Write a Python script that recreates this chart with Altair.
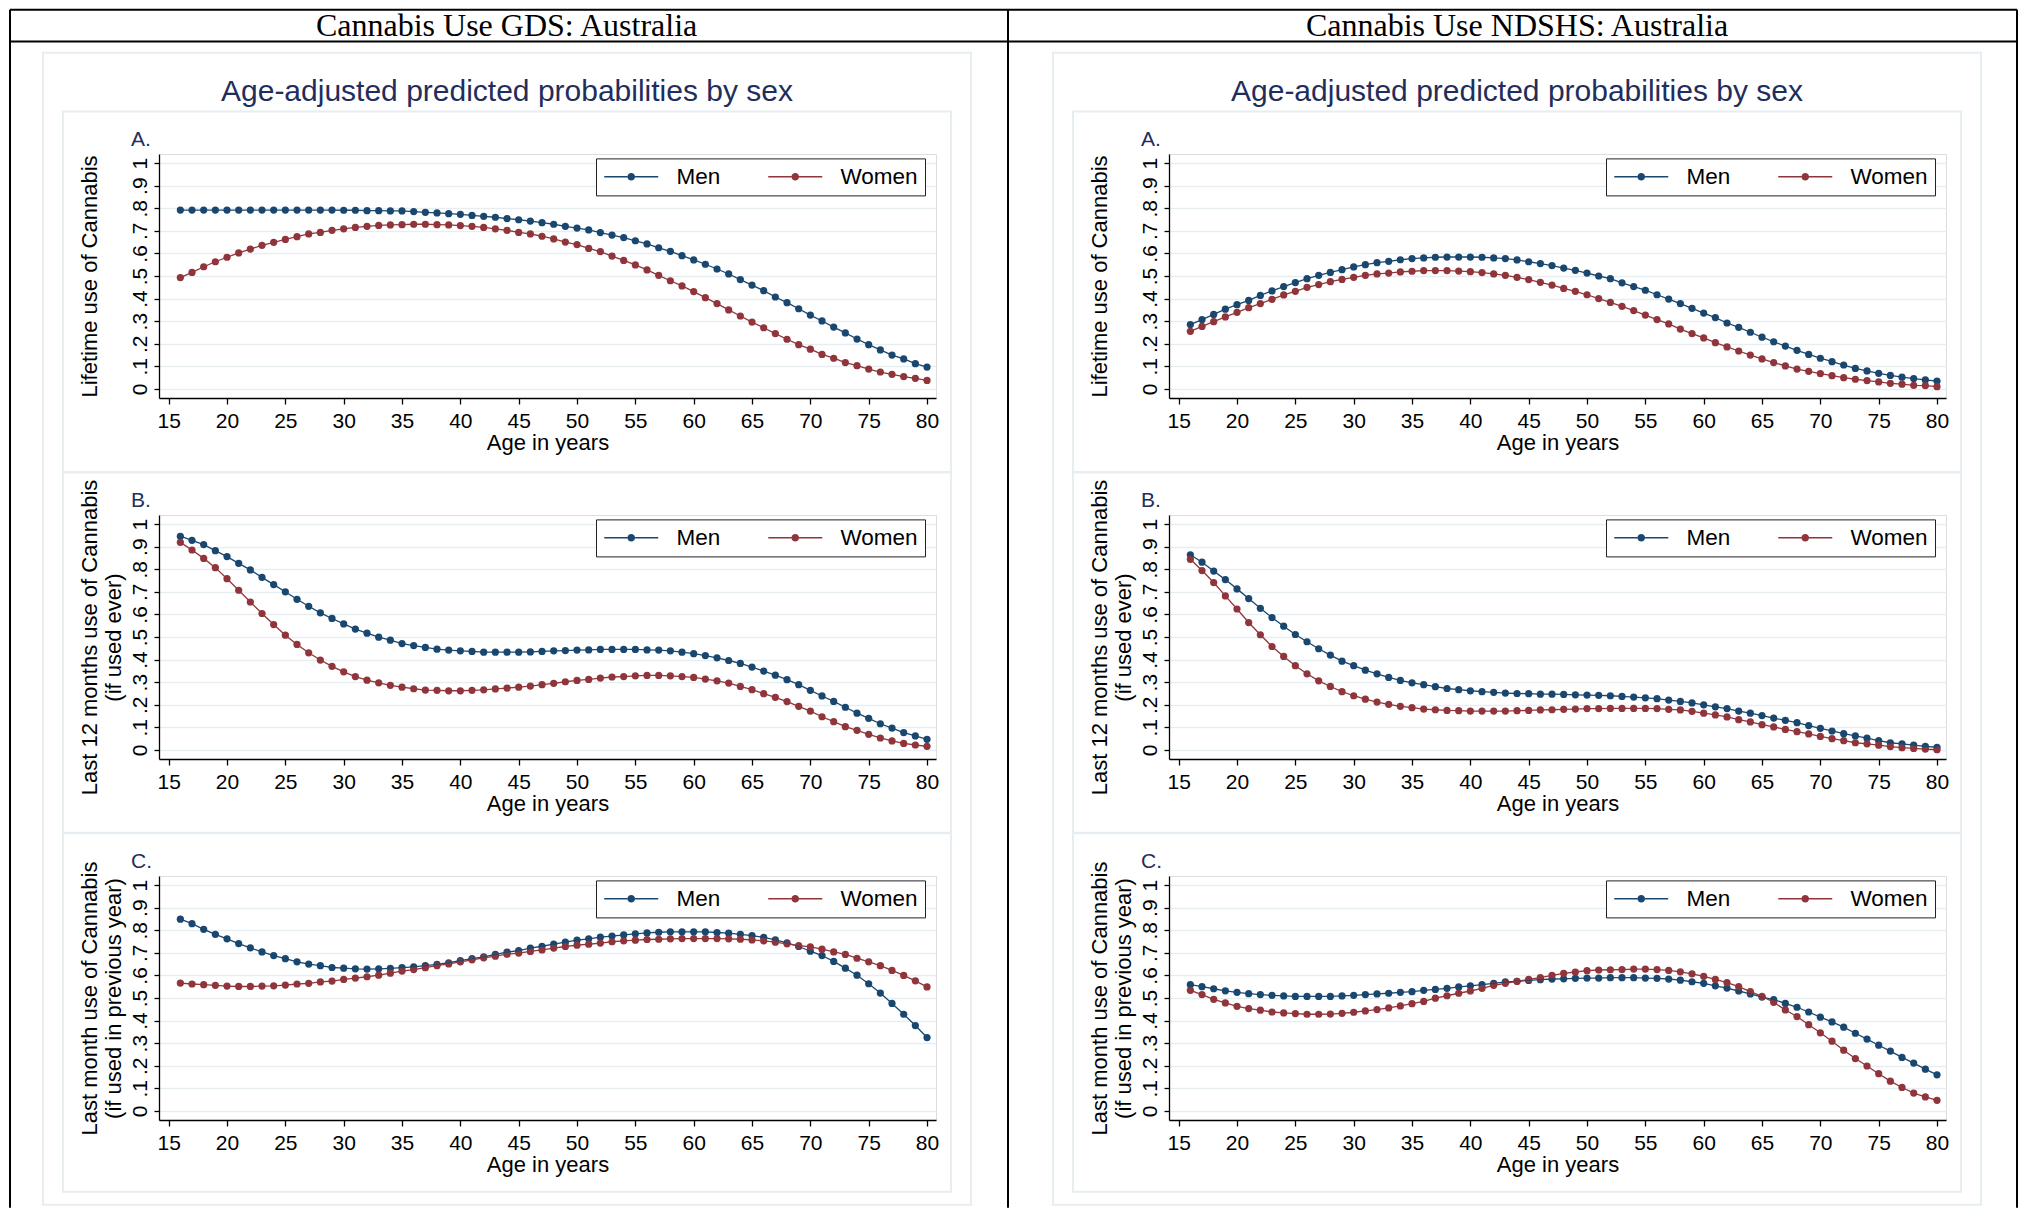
import math
import altair as alt
import pandas as pd

# ---------------- data ----------------
ages = list(range(16, 81))
x_ticks = [15, 20, 25, 30, 35, 40, 45, 50, 55, 60, 65, 70, 75, 80]
y_ticks = [0, 0.1, 0.2, 0.3, 0.4, 0.5, 0.6, 0.7, 0.8, 0.9, 1.0]
y_tick_labels = ["0", ".1", ".2", ".3", ".4", ".5", ".6", ".7", ".8", ".9", "1"]
sexes = ["Men", "Women"]

survey_headers = ["Cannabis Use GDS: Australia", "Cannabis Use NDSHS: Australia"]
column_title = "Age-adjusted predicted probabilities by sex"
panel_letters = ["A.", "B.", "C."]
y_titles = [
    "Lifetime use of Cannabis",
    ["Last 12 months use of Cannabis", "(if used ever)"],
    ["Last month use of Cannabis", "(if used in previous year)"],
]
x_title = "Age in years"

gds_life_men = [0.792, 0.792, 0.792, 0.792, 0.792, 0.792, 0.792, 0.792, 0.792, 0.792,
                0.792, 0.792, 0.792, 0.792, 0.791, 0.791, 0.789, 0.789, 0.788, 0.788,
                0.785, 0.782, 0.779, 0.776, 0.773, 0.768, 0.764, 0.760, 0.754, 0.749,
                0.743, 0.736, 0.729, 0.720, 0.712, 0.704, 0.692, 0.681, 0.670, 0.656,
                0.642, 0.625, 0.609, 0.590, 0.571, 0.552, 0.531, 0.509, 0.484, 0.460,
                0.435, 0.407, 0.382, 0.355, 0.327, 0.301, 0.274, 0.248, 0.221, 0.196,
                0.173, 0.150, 0.133, 0.112, 0.097]
gds_life_women = [0.493, 0.516, 0.541, 0.563, 0.583, 0.602, 0.619, 0.636, 0.649, 0.662,
                  0.674, 0.686, 0.693, 0.702, 0.709, 0.715, 0.720, 0.724, 0.726, 0.727,
                  0.729, 0.729, 0.727, 0.726, 0.723, 0.720, 0.715, 0.709, 0.702, 0.693,
                  0.686, 0.676, 0.664, 0.650, 0.639, 0.622, 0.608, 0.588, 0.569, 0.549,
                  0.527, 0.503, 0.479, 0.456, 0.431, 0.404, 0.378, 0.350, 0.323, 0.296,
                  0.271, 0.245, 0.220, 0.196, 0.176, 0.153, 0.136, 0.117, 0.103, 0.088,
                  0.075, 0.065, 0.055, 0.047, 0.038]
gds_12m_men = [0.946, 0.928, 0.909, 0.882, 0.856, 0.826, 0.797, 0.764, 0.732, 0.700,
               0.667, 0.636, 0.607, 0.582, 0.558, 0.535, 0.517, 0.499, 0.486, 0.471,
               0.462, 0.454, 0.446, 0.442, 0.439, 0.436, 0.433, 0.433, 0.433, 0.433,
               0.434, 0.436, 0.439, 0.440, 0.442, 0.443, 0.445, 0.445, 0.445, 0.445,
               0.443, 0.442, 0.439, 0.433, 0.426, 0.418, 0.408, 0.396, 0.383, 0.367,
               0.349, 0.331, 0.311, 0.289, 0.264, 0.239, 0.215, 0.189, 0.163, 0.140,
               0.116, 0.097, 0.077, 0.062, 0.047]
gds_12m_women = [0.919, 0.885, 0.848, 0.807, 0.758, 0.707, 0.655, 0.604, 0.555, 0.508,
                 0.467, 0.430, 0.398, 0.370, 0.346, 0.325, 0.309, 0.297, 0.286, 0.278,
                 0.271, 0.265, 0.264, 0.262, 0.262, 0.264, 0.266, 0.270, 0.274, 0.278,
                 0.283, 0.289, 0.295, 0.302, 0.308, 0.312, 0.318, 0.323, 0.325, 0.328,
                 0.330, 0.330, 0.328, 0.325, 0.321, 0.314, 0.306, 0.296, 0.281, 0.267,
                 0.249, 0.233, 0.214, 0.193, 0.172, 0.147, 0.125, 0.103, 0.087, 0.069,
                 0.053, 0.040, 0.029, 0.022, 0.016]
gds_month_men = [0.849, 0.829, 0.804, 0.782, 0.762, 0.741, 0.722, 0.704, 0.688, 0.674,
                 0.660, 0.650, 0.643, 0.635, 0.632, 0.629, 0.628, 0.629, 0.631, 0.634,
                 0.638, 0.643, 0.649, 0.656, 0.665, 0.674, 0.682, 0.693, 0.703, 0.710,
                 0.721, 0.729, 0.738, 0.747, 0.756, 0.762, 0.769, 0.774, 0.779, 0.784,
                 0.788, 0.791, 0.793, 0.793, 0.793, 0.793, 0.790, 0.787, 0.782, 0.776,
                 0.768, 0.757, 0.744, 0.728, 0.707, 0.688, 0.662, 0.632, 0.601, 0.563,
                 0.522, 0.476, 0.428, 0.378, 0.325]
gds_month_women = [0.566, 0.562, 0.559, 0.556, 0.553, 0.551, 0.551, 0.553, 0.554, 0.557,
                   0.562, 0.565, 0.571, 0.575, 0.582, 0.588, 0.594, 0.601, 0.610, 0.619,
                   0.626, 0.634, 0.643, 0.651, 0.660, 0.669, 0.678, 0.685, 0.694, 0.699,
                   0.706, 0.713, 0.721, 0.728, 0.734, 0.738, 0.743, 0.749, 0.753, 0.756,
                   0.759, 0.760, 0.762, 0.763, 0.763, 0.763, 0.763, 0.762, 0.760, 0.757,
                   0.753, 0.747, 0.740, 0.732, 0.726, 0.716, 0.704, 0.693, 0.676, 0.660,
                   0.643, 0.622, 0.600, 0.576, 0.549]
ndshs_life_men = [0.285, 0.307, 0.330, 0.353, 0.373, 0.392, 0.414, 0.434, 0.453, 0.471,
                  0.488, 0.503, 0.516, 0.528, 0.540, 0.550, 0.559, 0.565, 0.572, 0.577,
                  0.580, 0.583, 0.584, 0.584, 0.584, 0.583, 0.580, 0.577, 0.571, 0.563,
                  0.555, 0.546, 0.535, 0.525, 0.513, 0.500, 0.488, 0.470, 0.453, 0.437,
                  0.417, 0.398, 0.378, 0.357, 0.336, 0.316, 0.292, 0.273, 0.251, 0.229,
                  0.209, 0.190, 0.171, 0.153, 0.136, 0.121, 0.106, 0.091, 0.080, 0.069,
                  0.060, 0.052, 0.046, 0.040, 0.035]
ndshs_life_women = [0.255, 0.277, 0.298, 0.319, 0.339, 0.360, 0.378, 0.397, 0.416, 0.432,
                    0.450, 0.462, 0.475, 0.485, 0.494, 0.503, 0.509, 0.513, 0.518, 0.521,
                    0.524, 0.524, 0.524, 0.522, 0.519, 0.515, 0.509, 0.503, 0.494, 0.484,
                    0.472, 0.460, 0.445, 0.432, 0.417, 0.400, 0.383, 0.366, 0.347, 0.327,
                    0.307, 0.288, 0.265, 0.245, 0.226, 0.205, 0.186, 0.168, 0.150, 0.133,
                    0.117, 0.102, 0.088, 0.078, 0.068, 0.059, 0.050, 0.043, 0.037, 0.031,
                    0.025, 0.021, 0.016, 0.015, 0.010]
ndshs_12m_men = [0.864, 0.831, 0.792, 0.754, 0.713, 0.670, 0.627, 0.586, 0.548, 0.511,
                 0.479, 0.448, 0.420, 0.393, 0.373, 0.353, 0.337, 0.321, 0.308, 0.297,
                 0.289, 0.280, 0.272, 0.267, 0.262, 0.258, 0.255, 0.252, 0.250, 0.249,
                 0.247, 0.247, 0.246, 0.244, 0.243, 0.242, 0.240, 0.237, 0.234, 0.231,
                 0.227, 0.221, 0.215, 0.208, 0.200, 0.191, 0.183, 0.172, 0.163, 0.152,
                 0.141, 0.131, 0.121, 0.108, 0.096, 0.084, 0.072, 0.062, 0.052, 0.041,
                 0.032, 0.027, 0.021, 0.016, 0.012]
ndshs_12m_women = [0.844, 0.794, 0.741, 0.682, 0.624, 0.564, 0.510, 0.458, 0.414, 0.373,
                   0.337, 0.306, 0.281, 0.258, 0.240, 0.225, 0.212, 0.202, 0.193, 0.187,
                   0.181, 0.178, 0.175, 0.174, 0.172, 0.172, 0.172, 0.172, 0.174, 0.175,
                   0.177, 0.178, 0.180, 0.181, 0.183, 0.183, 0.184, 0.184, 0.184, 0.184,
                   0.183, 0.180, 0.177, 0.171, 0.163, 0.155, 0.146, 0.134, 0.124, 0.112,
                   0.102, 0.091, 0.081, 0.071, 0.060, 0.050, 0.041, 0.032, 0.027, 0.021,
                   0.015, 0.010, 0.007, 0.004, 0.001]
ndshs_month_men = [0.559, 0.550, 0.541, 0.532, 0.525, 0.519, 0.515, 0.512, 0.509, 0.507,
                   0.507, 0.507, 0.507, 0.509, 0.512, 0.515, 0.518, 0.521, 0.525, 0.528,
                   0.534, 0.538, 0.543, 0.549, 0.554, 0.559, 0.565, 0.571, 0.574, 0.578,
                   0.581, 0.584, 0.585, 0.587, 0.588, 0.588, 0.590, 0.590, 0.590, 0.588,
                   0.587, 0.584, 0.579, 0.572, 0.565, 0.554, 0.544, 0.531, 0.518, 0.504,
                   0.493, 0.476, 0.459, 0.438, 0.415, 0.394, 0.371, 0.344, 0.318, 0.291,
                   0.265, 0.237, 0.212, 0.185, 0.160]
ndshs_month_women = [0.534, 0.515, 0.494, 0.478, 0.463, 0.453, 0.446, 0.438, 0.434, 0.431,
                     0.428, 0.428, 0.429, 0.432, 0.437, 0.443, 0.449, 0.456, 0.465, 0.475,
                     0.485, 0.499, 0.510, 0.521, 0.531, 0.543, 0.556, 0.565, 0.574, 0.582,
                     0.590, 0.600, 0.609, 0.615, 0.621, 0.624, 0.625, 0.626, 0.628, 0.628,
                     0.626, 0.622, 0.616, 0.607, 0.596, 0.582, 0.568, 0.550, 0.528, 0.507,
                     0.481, 0.447, 0.418, 0.382, 0.346, 0.309, 0.269, 0.232, 0.199, 0.165,
                     0.132, 0.104, 0.079, 0.062, 0.047]

# ---------------- style ----------------
NAVY = "#1A476F"
MAROON = "#90353B"
TITLE_NAVY = "#1F2E5C"
GRID = "#E6EEF1"
BOX = "#E6EEF1"
SANS = "Liberation Sans"
SERIF = "Liberation Serif"

W, H = 777, 244
COL_X = [158, 1168]            # page x of each column's plot area
ROW_Y = [153.3, 514.3, 875.3]  # page y of each row's plot area

one = pd.DataFrame({"k": [0]})
y_expr = "[" + ",".join("'%s'" % s for s in y_tick_labels) + "][round(datum.value*10)]"

# legend key glyph: symbol unit = 10 px (symbolSize 400); key is 54 px wide
LEG_UNIT = 10.0


def legend_glyph():
    half = 27 / LEG_UNIT
    r = 3.8 / LEG_UNIT
    h = 0.68 / LEG_UNIT
    parts = ["M%.3f,%.3fL%.3f,%.3fL%.3f,%.3fL%.3f,%.3fZ"
             % (-half, -h, -r, -h, -r, h, -half, h),
             "M%.3f,%.3fL%.3f,%.3fL%.3f,%.3fL%.3f,%.3fZ"
             % (r, -h, half, -h, half, h, r, h)]
    pts = []
    for i in range(16):
        a = 2 * math.pi * i / 16
        pts.append("%.4f,%.4f" % (r * math.cos(a), r * math.sin(a)))
    parts.append("M" + "L".join(pts) + "Z")
    return "".join(parts)


LEG_PATH = legend_glyph()


def hrule(x1, x2, y, ox, oy, color, width):
    return alt.Chart(one).mark_rule(color=color, strokeWidth=width).encode(
        x=alt.value(x1 - ox), x2=alt.value(x2 - ox), y=alt.value(y - oy))


def vrule(x, y1, y2, ox, oy, color, width):
    return alt.Chart(one).mark_rule(color=color, strokeWidth=width).encode(
        x=alt.value(x - ox), y=alt.value(y1 - oy), y2=alt.value(y2 - oy))


def box(x1, y1, x2, y2, ox, oy):
    return alt.Chart(one).mark_rect(fill="white", fillOpacity=0, stroke=BOX,
                                    strokeWidth=2).encode(
        x=alt.value(x1 - ox), x2=alt.value(x2 - ox),
        y=alt.value(y1 - oy), y2=alt.value(y2 - oy))


def text_at(txt, x, y, ox, oy, font, size, color):
    return alt.Chart(one).mark_text(text=txt, font=font, fontSize=size, color=color,
                                    align="center", baseline="alphabetic").encode(
        x=alt.value(x - ox), y=alt.value(y - oy))


def panel(men, women, ytitle, letter, extra):
    n = len(ages)
    df = pd.DataFrame({"age": ages + ages, "prob": men + women,
                       "sex": [sexes[0]] * n + [sexes[1]] * n})
    cscale = alt.Scale(domain=sexes, range=[NAVY, MAROON])
    x = alt.X("age:Q", scale=alt.Scale(domain=[14.17, 80.77], nice=False, zero=False),
              axis=alt.Axis(values=x_ticks, format="d", labelAngle=0, labelFont=SANS,
                            labelFontSize=21, labelColor="black", labelPadding=6,
                            labelOverlap=False, labelFlush=False,
                            tickSize=6, tickColor="black", tickWidth=1.3,
                            domainColor="black", domainWidth=1.3, grid=False,
                            title=x_title, titleFont=SANS, titleFontSize=22,
                            titleFontWeight="normal", titleColor="black",
                            titleX=W / 2, titleY=34, titleAlign="center",
                            titleBaseline="top"))
    y = alt.Y("prob:Q", scale=alt.Scale(domain=[-0.04, 1.04], nice=False, zero=False),
              axis=alt.Axis(values=y_ticks, labelExpr=y_expr, labelAngle=270,
                            labelAlign="center", labelBaseline="alphabetic",
                            labelPadding=8, labelFont=SANS, labelFontSize=21,
                            labelColor="black", labelOverlap=False, labelFlush=False,
                            tickSize=5, tickColor="black", tickWidth=1.3,
                            domainColor="black", domainWidth=1.3,
                            grid=True, gridColor=GRID, gridWidth=1.6,
                            title=ytitle, titleFont=SANS, titleFontSize=22,
                            titleFontWeight="normal", titleColor="black",
                            titleAngle=270, titleAlign="center", titleBaseline="top",
                            titleX=-79.6, titleY=H / 2, titleLineHeight=24))
    legend = alt.Legend(title=None, orient="none", legendX=437, legendY=4.4,
                        direction="horizontal", symbolType=LEG_PATH,
                        symbolSize=LEG_UNIT * LEG_UNIT * 4, symbolOffset=17,
                        symbolStrokeWidth=0, symbolOpacity=1, labelFont=SANS,
                        labelFontSize=22.5, labelColor="black", labelOffset=34,
                        columnPadding=46, padding=7, strokeColor="#222222",
                        fillColor="white", cornerRadius=0)
    color = alt.Color("sex:N", scale=cscale, legend=legend)
    base = alt.Chart(df)
    pts = base.mark_point(filled=True, size=52, opacity=1).encode(x=x, y=y, color=color)
    line = base.mark_line(strokeWidth=1.3).encode(x=x, y=y, color=color)
    lab = alt.Chart(one).mark_text(text=letter, font=SANS, fontSize=21, color=TITLE_NAVY,
                                   align="left", baseline="alphabetic").encode(
        x=alt.value(-28), y=alt.value(-8.5))
    return alt.layer(*(extra + [pts, line, lab])).properties(width=W, height=H)


# ---------------- decorations (page coordinates) ----------------
ox, oy = COL_X[0], ROW_Y[0]
deco_left = [
    hrule(9, 2016, 9, ox, oy, "black", 2),
    hrule(9, 2016, 40.7, ox, oy, "black", 2),
    vrule(9, 9, 1207, ox, oy, "black", 2),
    vrule(1007, 9, 1207, ox, oy, "black", 2),
    vrule(2016, 9, 1207, ox, oy, "black", 2),
]
for c in range(2):
    dx = 1010 * c
    deco_left += [
        box(42 + dx, 52, 970 + dx, 1204, ox, oy),
        box(62 + dx, 110.7, 950 + dx, 471.2, ox, oy),
        box(62 + dx, 471.7, 950 + dx, 832, ox, oy),
        box(62 + dx, 832.5, 950 + dx, 1191, ox, oy),
    ]
deco_left += [
    text_at(survey_headers[0], 505.6, 35, ox, oy, SERIF, 32, "black"),
    text_at(column_title, 506, 100, ox, oy, SANS, 30, TITLE_NAVY),
]
ox2 = COL_X[1]
deco_right = [
    text_at(survey_headers[1], 1516, 35, ox2, oy, SERIF, 32, "black"),
    text_at(column_title, 1516, 100, ox2, oy, SANS, 30, TITLE_NAVY),
]

gds = [(gds_life_men, gds_life_women), (gds_12m_men, gds_12m_women),
       (gds_month_men, gds_month_women)]
ndshs = [(ndshs_life_men, ndshs_life_women), (ndshs_12m_men, ndshs_12m_women),
         (ndshs_month_men, ndshs_month_women)]

cells = []
for r in range(3):
    cells.append(panel(gds[r][0], gds[r][1], y_titles[r], panel_letters[r],
                       deco_left if r == 0 else []))
    cells.append(panel(ndshs[r][0], ndshs[r][1], y_titles[r], panel_letters[r],
                       deco_right if r == 0 else []))

chart = alt.concat(*cells, columns=2, spacing={"row": 117, "column": 233},
                   bounds="flush").resolve_scale(color="independent").resolve_legend(
    color="independent"
).properties(padding=0).configure_view(strokeWidth=0).configure(background="white")

chart.save("out.html", embed_options={"renderer": "svg", "actions": False})
